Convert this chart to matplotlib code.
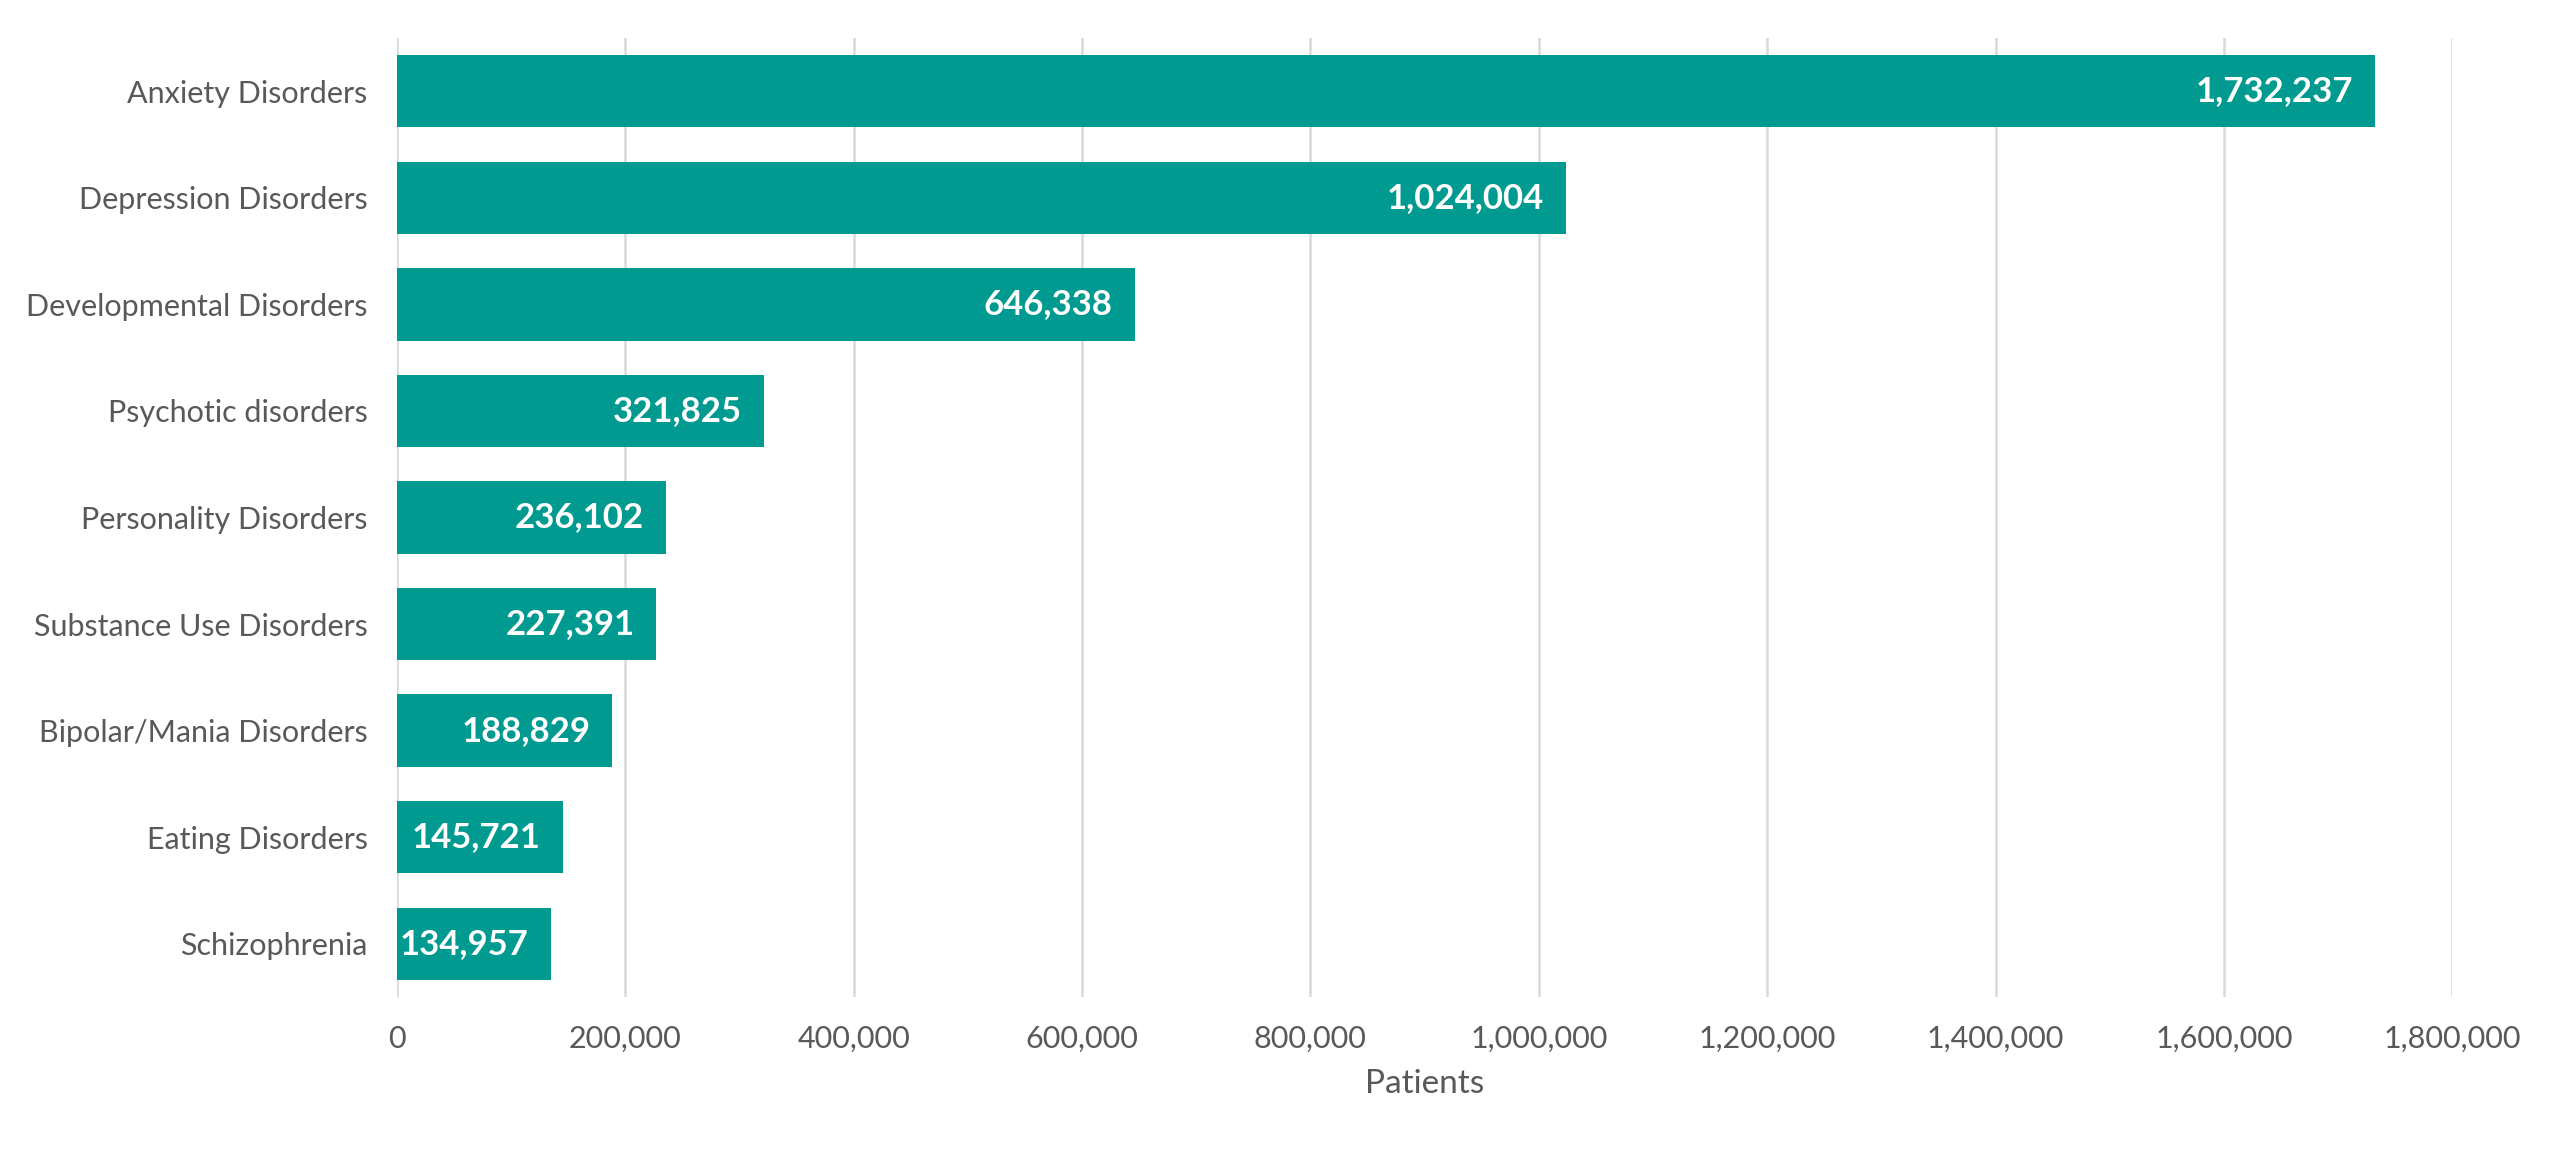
import matplotlib
matplotlib.use("Agg")
import matplotlib.pyplot as plt
from matplotlib.ticker import FuncFormatter

categories = ["Anxiety Disorders", "Depression Disorders", "Developmental Disorders",
              "Psychotic disorders", "Personality Disorders", "Substance Use Disorders",
              "Bipolar/Mania Disorders", "Eating Disorders", "Schizophrenia"]
patients = [1732237, 1024004, 646338, 321825, 236102, 227391, 188829, 145721, 134957]
xticks = [0, 200000, 400000, 600000, 800000, 1000000, 1200000, 1400000, 1600000, 1800000]

plt.rcParams['font.family'] = ['Lato', 'DejaVu Sans']

fig = plt.figure(figsize=(25.6, 11.5), dpi=100)
ax = fig.add_axes([0.155, 0.133, 0.803, 0.834])

ypos = list(range(len(categories)))
bars = ax.barh(ypos, patients, height=0.68, color="#009A90", zorder=3)
ax.set_ylim(len(categories) - 0.5, -0.5)
ax.set_xlim(0, 1800000)
ax.set_yticks(ypos)
ax.set_yticklabels(categories)
ax.set_xticks(xticks)
ax.xaxis.set_major_formatter(FuncFormatter(lambda v, p: f"{int(v):,}"))

for y, v in zip(ypos, patients):
    ax.annotate(f"{v:,}", xy=(v, y), xytext=(-16, 0), textcoords="offset points",
                ha="right", va="center", color="white", fontsize=25, fontweight="bold",
                zorder=4)

ax.grid(axis="x", color="#D9D9D9", linewidth=1.8, zorder=0)
ax.grid(axis="y", visible=False)
for s in ax.spines.values():
    s.set_visible(False)
ax.tick_params(axis="both", length=0, labelsize=22, labelcolor="#595959")
ax.tick_params(axis="y", pad=21)
ax.tick_params(axis="x", pad=20)
ax.set_xlabel("Patients", fontsize=24, color="#595959", labelpad=12)

fig.savefig("out.png", dpi=100, facecolor="white")
